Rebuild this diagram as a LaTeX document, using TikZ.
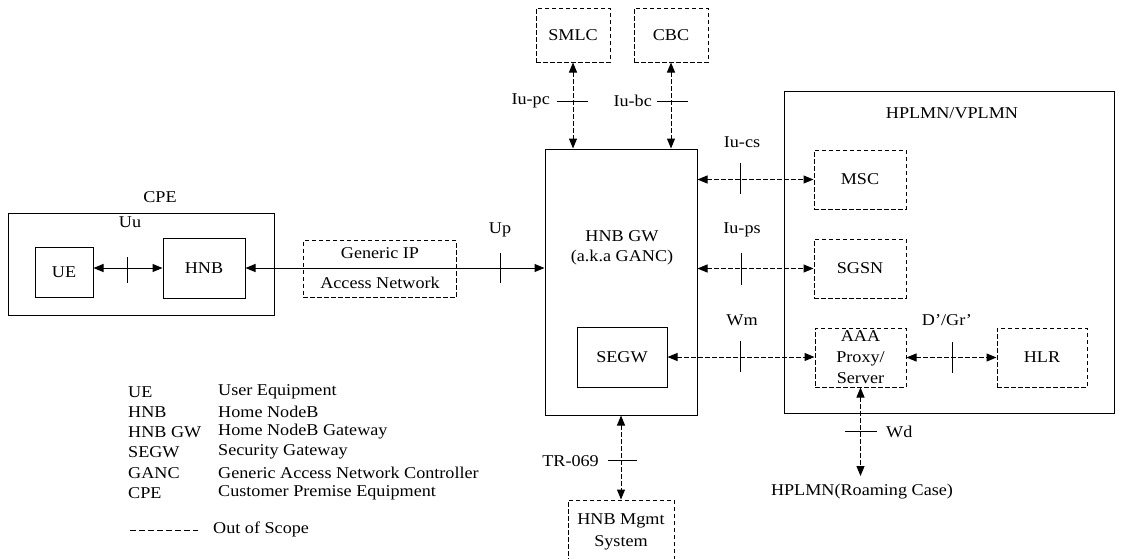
\documentclass[tikz,border=0pt]{standalone}
\usepackage{fontspec}
\setmainfont{Liberation Serif}[FakeStretch=1.1]
\usetikzlibrary{arrows.meta}
\begin{document}
\begin{tikzpicture}[x=1pt,y=-1pt,
  font=\fontsize{16.5}{20}\selectfont,
  >={Triangle[length=10pt,width=8pt]},
  box/.style={draw, line width=1pt, inner sep=0pt, align=center},
  oos/.style={box, dash pattern=on 4.5pt off 2.5pt},
  sol/.style={line width=1pt, <->},
  dsh/.style={line width=1pt, <->, dash pattern=on 4.5pt off 2.5pt},
  tickline/.style={line width=0.9pt},
  lbl/.style={inner sep=0pt, align=center}]
\useasboundingbox (0,0) rectangle (1121,558);
\clip (0,0) rectangle (1121,558);

% CPE
\node[box, minimum width=266pt, minimum height=102pt] (cpe) at (141,264) {};
\node[lbl] (cpelbl) at (160,197) {CPE};
\node[box, minimum width=58pt, minimum height=50pt] (ue) at (64,272) {UE};
\node[box, minimum width=82pt, minimum height=60pt] (hnb) at (204,268) {HNB};
\node[lbl] (uulbl) at (130,222) {Uu};

% Generic IP access network
\node[oos, minimum width=153pt, minimum height=57pt] (gip) at (379.5,269) {};
\node[lbl] (gip1) at (380,253) {Generic IP};
\node[lbl] (gip2) at (380,283) {Access Network};
\node[lbl] (uplbl) at (500,230) {Up};

% HNB GW
\node[box, minimum width=152pt, minimum height=266pt] (gw) at (621,282) {};
\node[lbl] (gwt) at (622,248) {HNB GW\\(a.k.a GANC)};
\node[box, minimum width=90pt, minimum height=60pt] (segw) at (622,357) {SEGW};

% SMLC / CBC
\node[oos, minimum width=74pt, minimum height=54pt] (smlc) at (573,35) {SMLC};
\node[oos, minimum width=74pt, minimum height=54pt] (cbc) at (671,35) {CBC};

% HPLMN/VPLMN
\node[box, minimum width=330pt, minimum height=322pt] (hp) at (949,252) {};
\node[lbl] (hplbl) at (952,113) {HPLMN/VPLMN};
\node[oos, minimum width=92pt, minimum height=59pt] (msc) at (860,179.5) {MSC};
\node[oos, minimum width=92pt, minimum height=59pt] (sgsn) at (860,268.5) {SGSN};
\node[oos, minimum width=91pt, minimum height=59pt, font=\fontsize{16.5}{21}\selectfont] (aaa) at (860.5,357.5) {AAA\\Proxy/\\Server};
\node[oos, minimum width=90pt, minimum height=59pt] (hlr) at (1042,357.5) {HLR};

% HNB Mgmt
\node[oos, minimum width=106pt, minimum height=80pt] (mgmt) at (621,540) {};
\node[lbl] (mg1) at (621,521) {HNB Mgmt};
\node[lbl] (mg2) at (621,543) {System};

% connectors
\draw[sol] (ue.east |- hnb.west) -- (hnb.west);
\draw[tickline] (127,257) -- (127,283);
\draw[sol] (hnb.east) -- (gw.west |- hnb.east);
\draw[tickline] (500,253) -- (500,283);

\draw[dsh] (smlc.south) -- (smlc.south |- gw.north);
\draw[tickline] (557,101) -- (588,101);
\node[lbl, anchor=east] (iupc) at (550,101) {Iu-pc};
\draw[dsh] (cbc.south) -- (cbc.south |- gw.north);
\draw[tickline] (657,101) -- (688,101);
\node[lbl, anchor=east] (iubc) at (652,101) {Iu-bc};

\draw[dsh] (gw.east |- msc.west) -- (msc.west);
\draw[tickline] (740,163) -- (740,194);
\node[lbl] (iucs) at (742,142) {Iu-cs};
\draw[dsh] (gw.east |- sgsn.west) -- (sgsn.west);
\draw[tickline] (741,253) -- (741,285);
\node[lbl] (iups) at (742,230) {Iu-ps};
\draw[dsh] (segw.east) -- (aaa.west |- segw.east);
\draw[tickline] (740,341) -- (740,372);
\node[lbl] (wm) at (742,320) {Wm};
\draw[dsh] (aaa.east) -- (hlr.west);
\draw[tickline] (952,342) -- (952,373);
\node[lbl] (dgr) at (947,320) {D’/Gr’};

\coordinate (wdend) at (860.5,476);
\draw[dsh] (aaa.south) -- (wdend);
\draw[tickline] (845,431) -- (877,431);
\node[lbl, anchor=west] (wd) at (886,432) {Wd};
\node[lbl] (roam) at (862,492) {HPLMN(Roaming Case)};

\draw[dsh] (gw.south) -- (mgmt.north);
\draw[tickline] (608,460) -- (637,460);
\node[lbl, anchor=east] (tr) at (599,461) {TR-069};

% legend
\foreach \y/\a/\d in {392/UE/User Equipment, 412/HNB/Home NodeB, 432/HNB GW/Home NodeB Gateway, 452/SEGW/Security Gateway, 473/GANC/Generic Access Network Controller, 493/CPE/Customer Premise Equipment}{
  \node[lbl, anchor=west] at (128,\y) {\a};
  \node[lbl, anchor=west] at (218,\y) {\d};
}
\coordinate (lg1) at (130,530);
\coordinate (lg2) at (198,530);
\draw[line width=0.8pt, dash pattern=on 6pt off 3pt] (lg1) -- (lg2);
\node[lbl, anchor=west] (oosl) at (213,529) {Out of Scope};
\end{tikzpicture}
\end{document}
